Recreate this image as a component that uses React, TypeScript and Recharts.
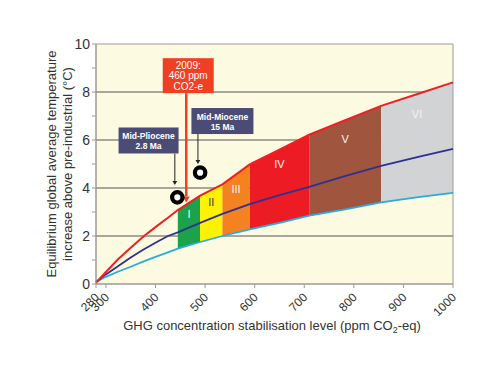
import {
  Area,
  CartesianGrid,
  ComposedChart,
  Line,
  ReferenceArea,
  ReferenceDot,
  ReferenceLine,
  XAxis,
  YAxis,
} from 'recharts'

// GHG concentration (ppm CO2-eq) and equilibrium warming (°C)
const ppm = [280, 300, 325, 350, 375, 400, 425, 445, 490, 535, 590, 650, 710, 780, 855, 930, 1000]
const highT = [0.05, 0.5, 1.04, 1.51, 1.97, 2.37, 2.76, 3.08, 3.68, 4.15, 4.98, 5.6, 6.22, 6.8, 7.42, 7.93, 8.4]
const bestT = [0.08, 0.4, 0.75, 1.1, 1.43, 1.72, 2.0, 2.15, 2.55, 2.92, 3.33, 3.7, 4.05, 4.48, 4.92, 5.3, 5.63]
const lowT = [0.08, 0.3, 0.52, 0.72, 0.93, 1.13, 1.32, 1.47, 1.75, 2.0, 2.28, 2.55, 2.85, 3.1, 3.4, 3.62, 3.8]

// stabilisation categories
const bandEdges = [445, 490, 535, 590, 710, 855, 1000]
const bandNames = ['I', 'II', 'III', 'IV', 'V', 'VI']
const bandLabelT = [2.93, 3.4, 3.94, 5.0, 6.05, 7.1]
const bandColors = ['#1ba24b', '#fff200', '#f58220', '#ed1c24', '#a0553e', '#d1d3d4']
const bandTextColors = ['#f4f4f4', '#333333', '#f4f4f4', '#f4f4f4', '#f4f4f4', '#f4f4f4']

// palaeo-climate markers
const paleoNames = ['Mid-Pliocene', 'Mid-Miocene']
const paleoAges = ['2.8 Ma', '15 Ma']
const paleoPpm = [444, 490]
const paleoT = [3.61, 4.64]

const xTicks = [280, 300, 400, 500, 600, 700, 800, 900, 1000]
const yTicks = [0, 1, 2, 3, 4, 5, 6, 7, 8, 9, 10]

// where the annotation boxes and arrows sit (data units)
const nowPpm = 462
const nowBox = { x: 466, y: 8.68 }
const nowArrow = { from: 7.95, to: 3.4 }
const paleoBoxes = [
  { x: 386, y: 5.98, w: 60 },
  { x: 535, y: 6.79, w: 62 },
]
const paleoArrows = [
  { x: 439, from: 5.43, to: 4.13 },
  { x: 485.6, from: 6.25, to: 5.0 },
]

const rows = ppm.map((p, i) => {
  const r: Record<string, any> = { ppm: p, high: highT[i], best: bestT[i], low: lowT[i] }
  bandNames.forEach((_, b) => {
    if (p >= bandEdges[b] && p <= bandEdges[b + 1]) r['b' + b] = [lowT[i], highT[i]]
  })
  return r
})

const FONT = '"Liberation Sans", Arial, sans-serif'
const SLATE = '#4b4c76'
const ORANGE_RED = '#ee4123'

const arrow = (color: string, width: number, head: number) => (p: any) => {
  const { x1, y1, x2, y2 } = p
  return (
    <g>
      <line x1={x1} y1={y1} x2={x2} y2={y2 - head} stroke={color} strokeWidth={width} />
      <polygon
        points={`${x2 - head * 0.6},${y2 - head} ${x2 + head * 0.6},${y2 - head} ${x2},${y2}`}
        fill={color}
      />
    </g>
  )
}

const box =
  (w: number, h: number, lines: string[], offsets: number[], fill: string, size: number, weight: string) =>
  (p: any) => (
    <g>
      <rect x={p.cx - w / 2} y={p.cy - h / 2} width={w} height={h} fill={fill} />
      {lines.map((t, i) => (
        <text
          key={i}
          x={p.cx}
          y={p.cy + offsets[i] + size * 0.36}
          textAnchor="middle"
          fill="#ffffff"
          fontSize={size}
          fontWeight={weight}
          fontFamily={FONT}
        >
          {t}
        </text>
      ))}
    </g>
  )

const ring = (p: any) => (
  <circle cx={p.cx} cy={p.cy} r={5.2} fill="#ffffff" stroke="#000000" strokeWidth={4.2} />
)

const bandLabel = (text: string, color: string) => (p: any) => (
  <text x={p.cx} y={p.cy + 4} textAnchor="middle" fill={color} fontSize={11} fontFamily={FONT}>
    {text}
  </text>
)

const XTick = (p: any) => {
  const x = p.x + 4
  const y = p.y + 8
  return (
    <text
      x={x}
      y={y}
      transform={`rotate(-45 ${x} ${y})`}
      textAnchor="end"
      fontSize={12}
      fill="#333"
      fontFamily={FONT}
    >
      {p.payload.value}
    </text>
  )
}

const YLabel = (p: any) => {
  const vb = p.viewBox
  const cy = vb.y + vb.height / 2
  const x1 = vb.x - 14
  const x2 = vb.x + 2
  return (
    <g fontSize={13} fill="#333" fontFamily={FONT}>
      <text x={x1} y={cy} transform={`rotate(-90 ${x1} ${cy})`} textAnchor="middle">
        Equilibrium global average temperature
      </text>
      <text x={x2} y={cy} transform={`rotate(-90 ${x2} ${cy})`} textAnchor="middle">
        increase above pre-industrial (°C)
      </text>
    </g>
  )
}

const XLabel = (p: any) => {
  const vb = p.viewBox
  return (
    <text x={272} y={vb.y + 46} textAnchor="middle" fontSize={13} fill="#333" fontFamily={FONT}>
      GHG concentration stabilisation level (ppm CO
      <tspan fontSize={9} dy={3}>
        2
      </tspan>
      <tspan dy={-3}>-eq)</tspan>
    </text>
  )
}

export default function App() {
  return (
    <div
      style={{
        position: 'absolute',
        left: 0,
        top: 0,
        width: 500,
        height: 375,
        background: '#ffffff',
        fontFamily: FONT,
      }}
    >
      <ComposedChart width={500} height={375} data={rows} margin={{ top: 44, right: 47, bottom: 51, left: 70 }}>
        <CartesianGrid fill="#fcfae0" vertical={false} horizontalValues={[2, 4, 6, 8]} stroke="#555555" />
        <XAxis
          dataKey="ppm"
          type="number"
          domain={[280, 1000]}
          ticks={xTicks}
          interval={0}
          height={40}
          tick={<XTick />}
          tickSize={4}
          stroke="#9a9a9a"
          label={<XLabel />}
        />
        <YAxis
          type="number"
          domain={[0, 10]}
          ticks={yTicks}
          interval={0}
          width={26}
          tickSize={4}
          tickFormatter={(v: number) => (v % 2 === 0 ? String(v) : '')}
          tick={{ fontSize: 14, fill: '#333', fontFamily: FONT }}
          stroke="#9a9a9a"
          label={<YLabel />}
        />
        {bandNames.map((_, b) => (
          <Area
            key={b}
            dataKey={'b' + b}
            type="linear"
            stroke="none"
            fill={bandColors[b]}
            fillOpacity={1}
            isAnimationActive={false}
            activeDot={false}
          />
        ))}
        <Line dataKey="low" type="linear" stroke="#29abe2" strokeWidth={1.8} dot={false} activeDot={false} isAnimationActive={false} />
        <Line dataKey="best" type="linear" stroke="#2e3192" strokeWidth={1.8} dot={false} activeDot={false} isAnimationActive={false} />
        <Line dataKey="high" type="linear" stroke="#ed2024" strokeWidth={2} dot={false} activeDot={false} isAnimationActive={false} />
        <ReferenceArea x1={280} x2={1000} y1={0} y2={10} fill="none" stroke="#9a9a9a" strokeWidth={1} />
        {bandNames.map((name, b) => (
          <ReferenceDot
            key={name}
            x={(bandEdges[b] + bandEdges[b + 1]) / 2}
            y={bandLabelT[b]}
            shape={bandLabel(name, bandTextColors[b])}
          />
        ))}
        <ReferenceLine
          segment={[
            { x: nowPpm, y: nowArrow.from },
            { x: nowPpm, y: nowArrow.to },
          ]}
          shape={arrow(ORANGE_RED, 2.5, 6)}
        />
        {paleoArrows.map((a, i) => (
          <ReferenceLine
            key={i}
            segment={[
              { x: a.x, y: a.from },
              { x: a.x, y: a.to },
            ]}
            shape={arrow('#222222', 1, 4)}
          />
        ))}
        <ReferenceDot
          x={nowBox.x}
          y={nowBox.y}
          shape={box(51, 35, ['2009:', '460 ppm', 'CO2-e'], [-10.5, 0, 10.5], ORANGE_RED, 10, 'normal')}
        />
        {paleoNames.map((name, i) => (
          <ReferenceDot
            key={name}
            x={paleoBoxes[i].x}
            y={paleoBoxes[i].y}
            shape={box(paleoBoxes[i].w, 26, [name, paleoAges[i]], [-4.5, 5.5], SLATE, 8.5, 'bold')}
          />
        ))}
        {paleoNames.map((name, i) => (
          <ReferenceDot key={name + '-pt'} x={paleoPpm[i]} y={paleoT[i]} shape={ring} />
        ))}
      </ComposedChart>
    </div>
  )
}
